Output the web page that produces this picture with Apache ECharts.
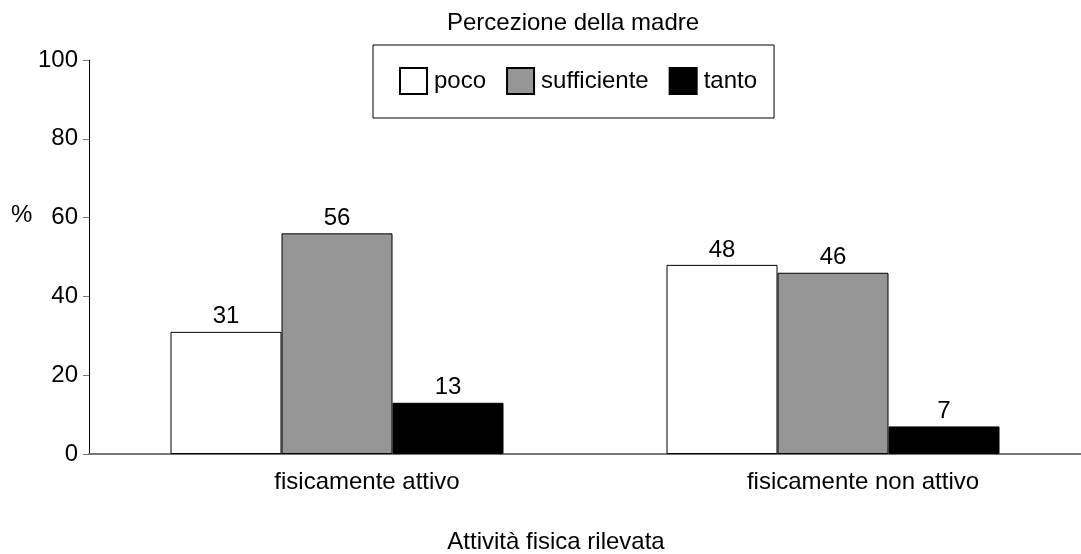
<!DOCTYPE html>
<html>
<head>
<meta charset="utf-8">
<script src="https://cdn.jsdelivr.net/npm/echarts@6/dist/echarts.min.js"></script>
<style>
html, body { margin: 0; padding: 0; background: #fff; }
#chart { width: 1081px; height: 554px; }
</style>
</head>
<body>
<div id="chart"></div>
<script type="text/javascript">
'use strict';
var categories = ['fisicamente attivo', 'fisicamente non attivo'];
var seriesNames = ['poco', 'sufficiente', 'tanto'];
var poco = [31, 48];
var sufficiente = [56, 46];
var tanto = [13, 7];
var yTicks = [0, 20, 40, 60, 80, 100];

var fontFam = '"Liberation Sans", Arial, sans-serif';
var fills = ['#ffffff', '#969696', '#000000'];
var values = [poco, sufficiente, tanto];

var series = seriesNames.map(function (name, i) {
	return {
		name: name,
		type: 'bar',
		data: values[i],
		barWidth: 111,
		barGap: '0%',
		itemStyle: { color: fills[i], borderColor: '#000', borderWidth: 1 },
		label: {
			show: true,
			position: 'top',
			distance: 3,
			color: '#000',
			fontSize: 24,
			fontFamily: fontFam
		}
	};
});

var myChart = echarts.init(document.getElementById('chart'));
myChart.setOption({
	animation: false,
	backgroundColor: '#fff',
	title: {
		text: 'Percezione della madre',
		left: 568,
		textAlign: 'center',
		top: 6,
		textStyle: { fontSize: 24, fontWeight: 'normal', color: '#000', fontFamily: fontFam }
	},
	legend: {
		data: seriesNames,
		left: 373,
		top: 45,
		padding: [22, 17, 23, 26],
		borderColor: '#000',
		borderWidth: 1,
		itemWidth: 27,
		itemHeight: 26,
		itemGap: 20,
		icon: 'rect',
		textStyle: { fontSize: 24, color: '#000', fontFamily: fontFam, padding: [0, 0, 0, 2] }
	},
	grid: { left: 89, top: 60, width: 1000, bottom: 100 },
	xAxis: {
		type: 'category',
		data: categories,
		axisLine: { lineStyle: { color: '#777', width: 2 } },
		axisTick: { show: false },
		axisLabel: { fontSize: 24, color: '#000', margin: 16, fontFamily: fontFam, padding: [0, 0, 0, 60] }
	},
	yAxis: {
		type: 'value',
		min: yTicks[0],
		max: yTicks[yTicks.length - 1],
		interval: 20,
		splitLine: { show: false },
		axisLine: { show: true, lineStyle: { color: '#000', width: 1 } },
		axisTick: { show: true, length: 6, lineStyle: { color: '#777' } },
		axisLabel: { fontSize: 24, color: '#000', margin: 11, fontFamily: fontFam }
	},
	graphic: [{
		type: 'text',
		left: 11,
		top: 203,
		style: { text: '%', fontSize: 24, fill: '#000', fontFamily: fontFam }
	}, {
		type: 'text',
		x: 556,
		y: 530,
		style: { text: 'Attività fisica rilevata', fontSize: 24, fill: '#000', fontFamily: fontFam, textAlign: 'center' }
	}],
	series: series
});
</script>
</body>
</html>
